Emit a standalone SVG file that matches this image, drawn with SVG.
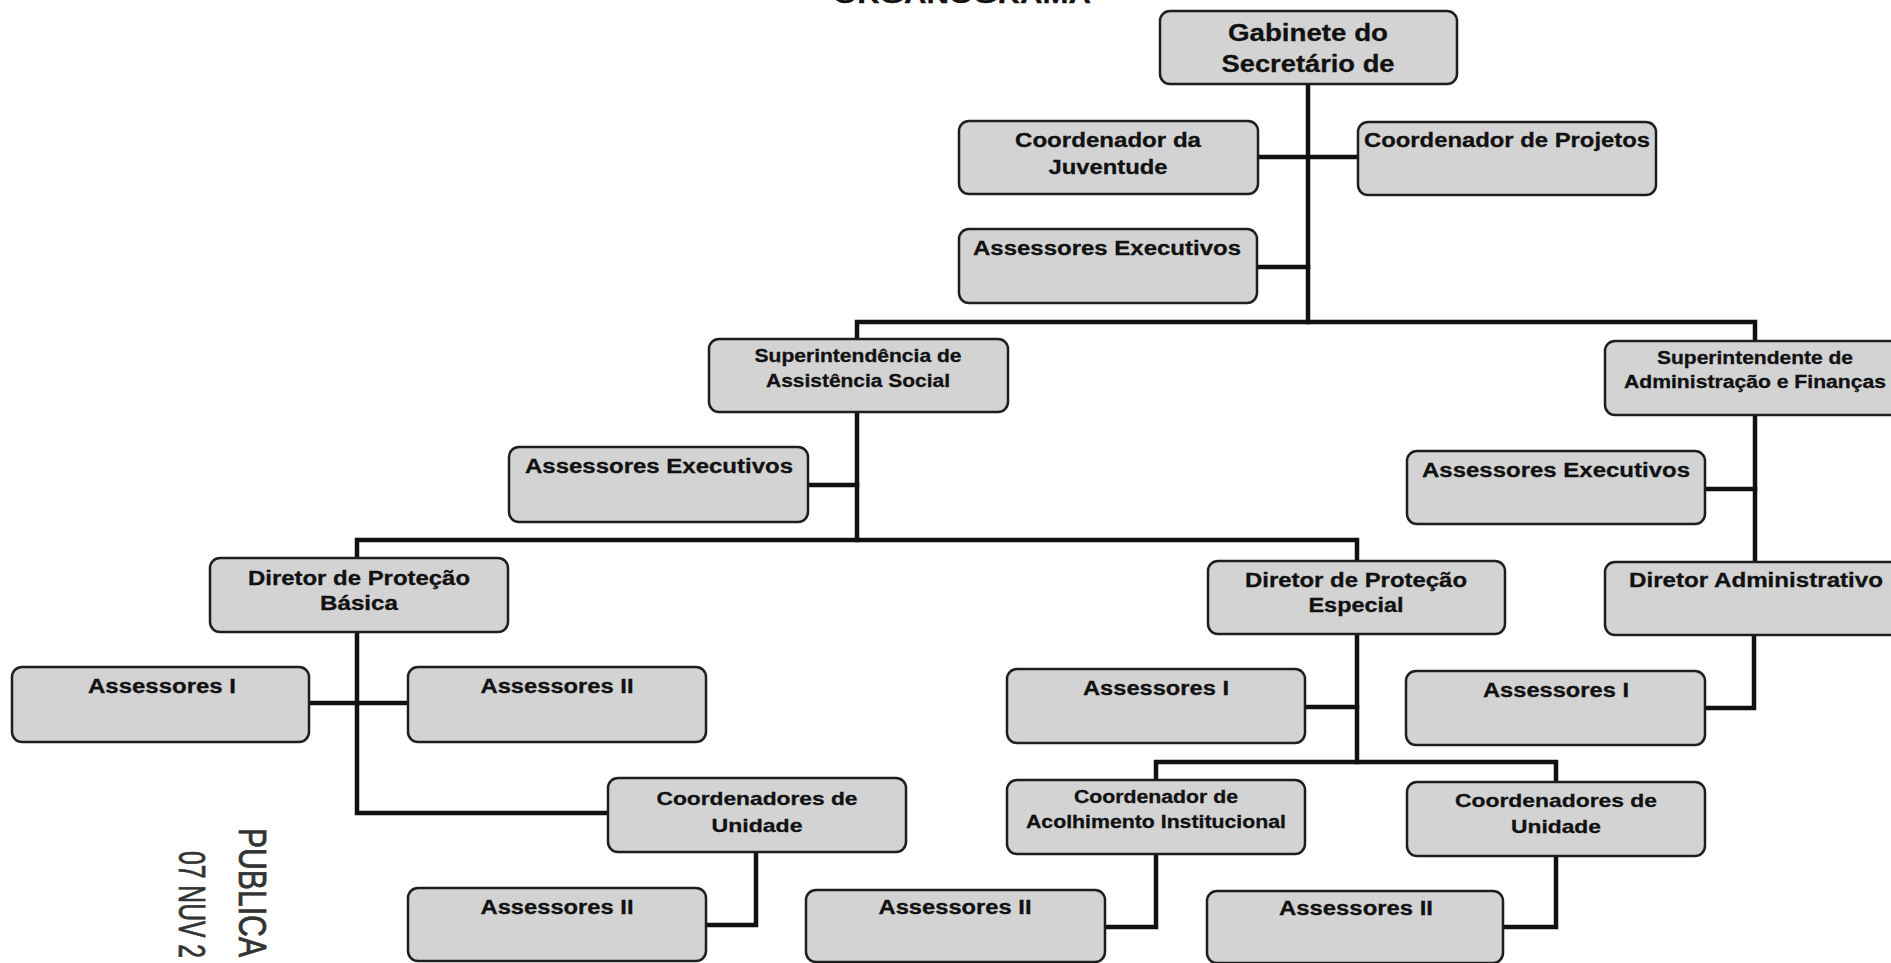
<svg xmlns="http://www.w3.org/2000/svg" width="1891" height="963" viewBox="0 0 1891 963">
<style>
.box{fill:#d3d3d3;stroke:#1e1e1e;stroke-width:2.5}
.t{font-family:"Liberation Sans",Arial,sans-serif;font-weight:bold;fill:#111;text-anchor:middle;stroke:#111;stroke-width:0.3}
.f23{font-size:23px}.f20{font-size:20px}.f19{font-size:19px}.f17{font-size:17.5px}
.c{fill:none;stroke:#111;stroke-width:4.5;stroke-linecap:square;stroke-linejoin:miter}
.stamp{font-family:"Liberation Sans",Arial,sans-serif;fill:#333;stroke:#333;stroke-width:0.8}
</style>
<rect width="1891" height="963" fill="#ffffff"/>
<text class="t" x="962" y="3" font-size="24" textLength="258" lengthAdjust="spacingAndGlyphs">ORGANOGRAMA</text>
<g id="connectors">
<path class="c" d="M1308 84V322"/>
<path class="c" d="M1258 157H1358"/>
<path class="c" d="M1257 267H1308"/>
<path class="c" d="M857 339V322H1755V341"/>
<path class="c" d="M857 412V540"/>
<path class="c" d="M808 485H857"/>
<path class="c" d="M357 558V540H1357V561"/>
<path class="c" d="M357 632V813H608"/>
<path class="c" d="M309 703H408"/>
<path class="c" d="M756 852V925H706"/>
<path class="c" d="M1357 634V762"/>
<path class="c" d="M1305 707H1357"/>
<path class="c" d="M1156 780V762H1556V782"/>
<path class="c" d="M1156 854V927H1105"/>
<path class="c" d="M1556 856V927H1503"/>
<path class="c" d="M1755 415V562"/>
<path class="c" d="M1705 489H1755"/>
<path class="c" d="M1754 635V708H1705"/>
</g>
<g id="gabinete"><rect class="box" x="1160" y="11" width="297" height="73" rx="10"/>
<text class="t f23" x="1308" y="41" textLength="160" lengthAdjust="spacingAndGlyphs">Gabinete do</text>
<text class="t f23" x="1308" y="72" textLength="173" lengthAdjust="spacingAndGlyphs">Secretário de</text></g>
<g id="coord-juventude"><rect class="box" x="959" y="121" width="299" height="73" rx="10"/>
<text class="t f20" x="1108" y="147" textLength="186" lengthAdjust="spacingAndGlyphs">Coordenador da</text>
<text class="t f20" x="1108" y="174" textLength="119" lengthAdjust="spacingAndGlyphs">Juventude</text></g>
<g id="coord-projetos"><rect class="box" x="1358" y="122" width="298" height="73" rx="10"/>
<text class="t f20" x="1507" y="147" textLength="286" lengthAdjust="spacingAndGlyphs">Coordenador de Projetos</text></g>
<g id="assessores-exec-gab"><rect class="box" x="959" y="229" width="298" height="74" rx="10"/>
<text class="t f20" x="1107" y="255" textLength="268" lengthAdjust="spacingAndGlyphs">Assessores Executivos</text></g>
<g id="sup-assistencia"><rect class="box" x="709" y="339" width="299" height="73" rx="10"/>
<text class="t f17" x="858" y="362" textLength="207" lengthAdjust="spacingAndGlyphs">Superintendência de</text>
<text class="t f17" x="858" y="387" textLength="184" lengthAdjust="spacingAndGlyphs">Assistência Social</text></g>
<g id="sup-admin"><rect class="box" x="1605" y="341" width="300" height="74" rx="10"/>
<text class="t f17" x="1755" y="364" textLength="196" lengthAdjust="spacingAndGlyphs">Superintendente de</text>
<text class="t f17" x="1755" y="388" textLength="262" lengthAdjust="spacingAndGlyphs">Administração e Finanças</text></g>
<g id="assessores-exec-sas"><rect class="box" x="509" y="447" width="299" height="75" rx="10"/>
<text class="t f20" x="659" y="473" textLength="268" lengthAdjust="spacingAndGlyphs">Assessores Executivos</text></g>
<g id="assessores-exec-saf"><rect class="box" x="1407" y="451" width="298" height="73" rx="10"/>
<text class="t f20" x="1556" y="477" textLength="268" lengthAdjust="spacingAndGlyphs">Assessores Executivos</text></g>
<g id="dir-basica"><rect class="box" x="210" y="558" width="298" height="74" rx="10"/>
<text class="t f20" x="359" y="585" textLength="222" lengthAdjust="spacingAndGlyphs">Diretor de Proteção</text>
<text class="t f20" x="359" y="610" textLength="78" lengthAdjust="spacingAndGlyphs">Básica</text></g>
<g id="dir-especial"><rect class="box" x="1208" y="561" width="297" height="73" rx="10"/>
<text class="t f20" x="1356" y="587" textLength="222" lengthAdjust="spacingAndGlyphs">Diretor de Proteção</text>
<text class="t f20" x="1356" y="612" textLength="95" lengthAdjust="spacingAndGlyphs">Especial</text></g>
<g id="dir-admin"><rect class="box" x="1605" y="562" width="300" height="73" rx="10"/>
<text class="t f20" x="1756" y="587" textLength="254" lengthAdjust="spacingAndGlyphs">Diretor Administrativo</text></g>
<g id="assessores-i-basica"><rect class="box" x="12" y="667" width="297" height="75" rx="10"/>
<text class="t f20" x="162" y="693" textLength="148" lengthAdjust="spacingAndGlyphs">Assessores I</text></g>
<g id="assessores-ii-basica"><rect class="box" x="408" y="667" width="298" height="75" rx="10"/>
<text class="t f20" x="557" y="693" textLength="153" lengthAdjust="spacingAndGlyphs">Assessores II</text></g>
<g id="assessores-i-especial"><rect class="box" x="1007" y="669" width="298" height="74" rx="10"/>
<text class="t f20" x="1156" y="695" textLength="146" lengthAdjust="spacingAndGlyphs">Assessores I</text></g>
<g id="assessores-i-admin"><rect class="box" x="1406" y="671" width="299" height="74" rx="10"/>
<text class="t f20" x="1556" y="697" textLength="146" lengthAdjust="spacingAndGlyphs">Assessores I</text></g>
<g id="coord-unidade-basica"><rect class="box" x="608" y="778" width="298" height="74" rx="10"/>
<text class="t f19" x="757" y="805" textLength="201" lengthAdjust="spacingAndGlyphs">Coordenadores de</text>
<text class="t f19" x="757" y="832" textLength="91" lengthAdjust="spacingAndGlyphs">Unidade</text></g>
<g id="coord-acolhimento"><rect class="box" x="1007" y="780" width="298" height="74" rx="10"/>
<text class="t f17" x="1156" y="803" textLength="164" lengthAdjust="spacingAndGlyphs">Coordenador de</text>
<text class="t f17" x="1156" y="828" textLength="260" lengthAdjust="spacingAndGlyphs">Acolhimento Institucional</text></g>
<g id="coord-unidade-especial"><rect class="box" x="1407" y="782" width="298" height="74" rx="10"/>
<text class="t f19" x="1556" y="807" textLength="202" lengthAdjust="spacingAndGlyphs">Coordenadores de</text>
<text class="t f19" x="1556" y="833" textLength="90" lengthAdjust="spacingAndGlyphs">Unidade</text></g>
<g id="assessores-ii-unidade"><rect class="box" x="408" y="888" width="298" height="73" rx="10"/>
<text class="t f20" x="557" y="914" textLength="153" lengthAdjust="spacingAndGlyphs">Assessores II</text></g>
<g id="assessores-ii-acolhimento"><rect class="box" x="806" y="890" width="299" height="72" rx="10"/>
<text class="t f20" x="955" y="914" textLength="153" lengthAdjust="spacingAndGlyphs">Assessores II</text></g>
<g id="assessores-ii-unidade-esp"><rect class="box" x="1207" y="891" width="296" height="72" rx="10"/>
<text class="t f20" x="1356" y="915" textLength="154" lengthAdjust="spacingAndGlyphs">Assessores II</text></g>
<g id="stamp">
<text class="stamp" transform="translate(239,828) rotate(90)" font-size="38" textLength="129" lengthAdjust="spacingAndGlyphs">PUBLICA</text>
<text class="stamp" transform="translate(179,851) rotate(90)" font-size="36" textLength="107" lengthAdjust="spacingAndGlyphs">07 NUV 2</text>
</g>
</svg>
